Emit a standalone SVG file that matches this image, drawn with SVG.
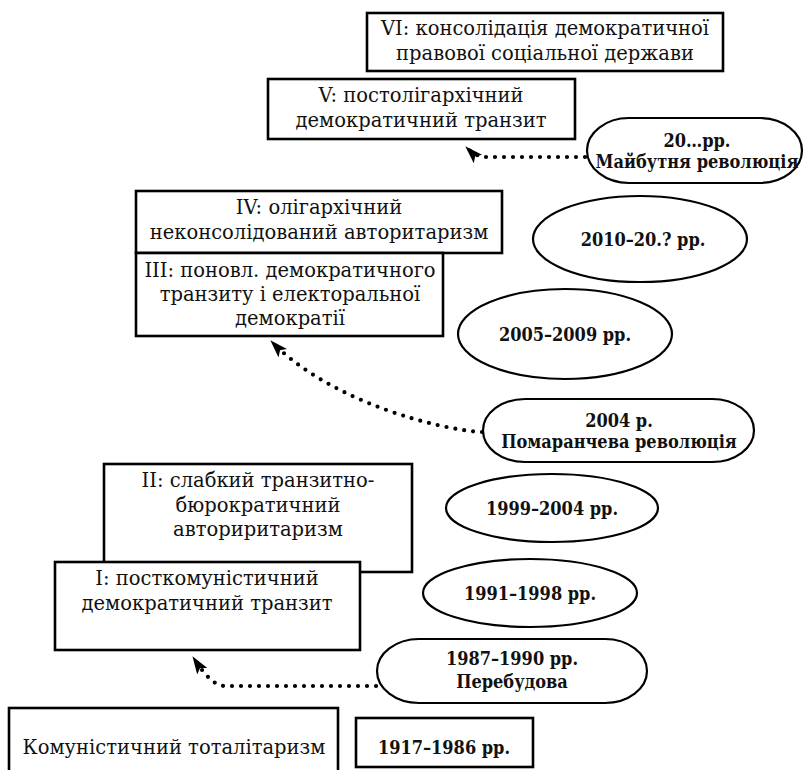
<svg xmlns="http://www.w3.org/2000/svg" width="807" height="770" viewBox="0 0 807 770">
<style>
.box{fill:#fff;stroke:#000;stroke-width:2.6}
.oval{fill:#fff;stroke:#000;stroke-width:2.2}
.t{font-family:"DejaVu Serif",serif;font-size:19.5px;text-anchor:middle;fill:#111}
.b{font-family:"DejaVu Serif",serif;font-size:18px;font-stretch:condensed;font-weight:bold;text-anchor:middle;fill:#111}
.dot{fill:none;stroke:#000;stroke-width:4.2;stroke-linecap:round;stroke-dasharray:0 9}
</style>
<defs>
<marker id="ah" viewBox="0 0 18 12" refX="17" refY="6" markerWidth="18" markerHeight="12" markerUnits="userSpaceOnUse" orient="auto">
<path d="M0,0 L18,6 L0,12 L4,6 Z" fill="#000" stroke="none"/>
</marker>
</defs>
<rect width="807" height="770" fill="#fff"/>

<g id="n6">
<rect class="box" x="367" y="13" width="356" height="58"/>
<text class="t" x="545" y="35">VI: консолідація демократичної</text>
<text class="t" x="545" y="60">правової  соціальної держави</text>
</g>
<g id="n5">
<rect class="box" x="268" y="79" width="307" height="60"/>
<text class="t" x="421" y="102">V: постолігархічний</text>
<text class="t" x="421" y="127">демократичний транзит</text>
</g>
<g id="e20">
<rect class="oval" x="587" y="118" width="215" height="65" rx="42" ry="32.5"/>
<text class="b" x="697" y="147">20…рр.</text>
<text class="b" x="697" y="168">Майбутня революція</text>
</g>
<g id="n4">
<rect class="box" x="136" y="191" width="366" height="62"/>
<text class="t" x="319" y="214">IV: олігархічний</text>
<text class="t" x="319" y="239">неконсолідований авторитаризм</text>
</g>
<g id="n3">
<rect class="box" x="136" y="253" width="307" height="83"/>
<text class="t" x="290" y="277">III: поновл. демократичного</text>
<text class="t" x="290" y="301">транзиту і електоральної</text>
<text class="t" x="290" y="325">демократії</text>
</g>
<g id="e2010">
<ellipse class="oval" cx="640" cy="239" rx="107" ry="43"/>
<text class="b" x="643" y="246">2010–20.? рр.</text>
</g>
<g id="e2005">
<ellipse class="oval" cx="565" cy="334" rx="107" ry="45"/>
<text class="b" x="565" y="341">2005–2009 рр.</text>
</g>
<g id="e2004">
<rect class="oval" x="483" y="399" width="271" height="63" rx="42" ry="31.5"/>
<text class="b" x="619" y="427">2004 р.</text>
<text class="b" x="619" y="448">Помаранчева  революція</text>
</g>
<g id="n2">
<rect class="box" x="104" y="464" width="308" height="108"/>
<text class="t" x="258" y="487">II: слабкий транзитно-</text>
<text class="t" x="258" y="512">бюрократичний</text>
<text class="t" x="258" y="536">авториритаризм</text>
</g>
<g id="n1">
<rect class="box" x="55" y="562" width="305" height="88"/>
<text class="t" x="207" y="585">I: посткомуністичний</text>
<text class="t" x="207" y="610">демократичний транзит</text>
</g>
<g id="e1999">
<ellipse class="oval" cx="552" cy="508" rx="106" ry="34"/>
<text class="b" x="552" y="515">1999–2004 рр.</text>
</g>
<g id="e1991">
<ellipse class="oval" cx="530" cy="593" rx="107" ry="34"/>
<text class="b" x="530" y="600">1991–1998 рр.</text>
</g>
<g id="e1987">
<rect class="oval" x="377" y="639" width="270" height="64" rx="42" ry="32"/>
<text class="b" x="512" y="665">1987–1990 рр.</text>
<text class="b" x="512" y="688">Перебудова</text>
</g>
<g id="n0">
<rect class="box" x="9" y="708" width="329" height="80"/>
<text class="t" x="174" y="754">Комуністичний тоталітаризм</text>
</g>
<g id="e1917">
<rect class="box" x="356" y="718" width="177" height="49"/>
<text class="b" x="444" y="754">1917–1986 рр.</text>
</g>

<g id="connectors">
<path class="dot" d="M 585 157 L 484 157 Q 475 156 466 147" marker-end="url(#ah)"/>
<path class="dot" d="M 482 432 C 440 430, 330 402, 271 341" marker-end="url(#ah)"/>
<path class="dot" d="M 376 686 L 225 686 C 214 686 204 674 193 657" marker-end="url(#ah)"/>
</g>
</svg>
